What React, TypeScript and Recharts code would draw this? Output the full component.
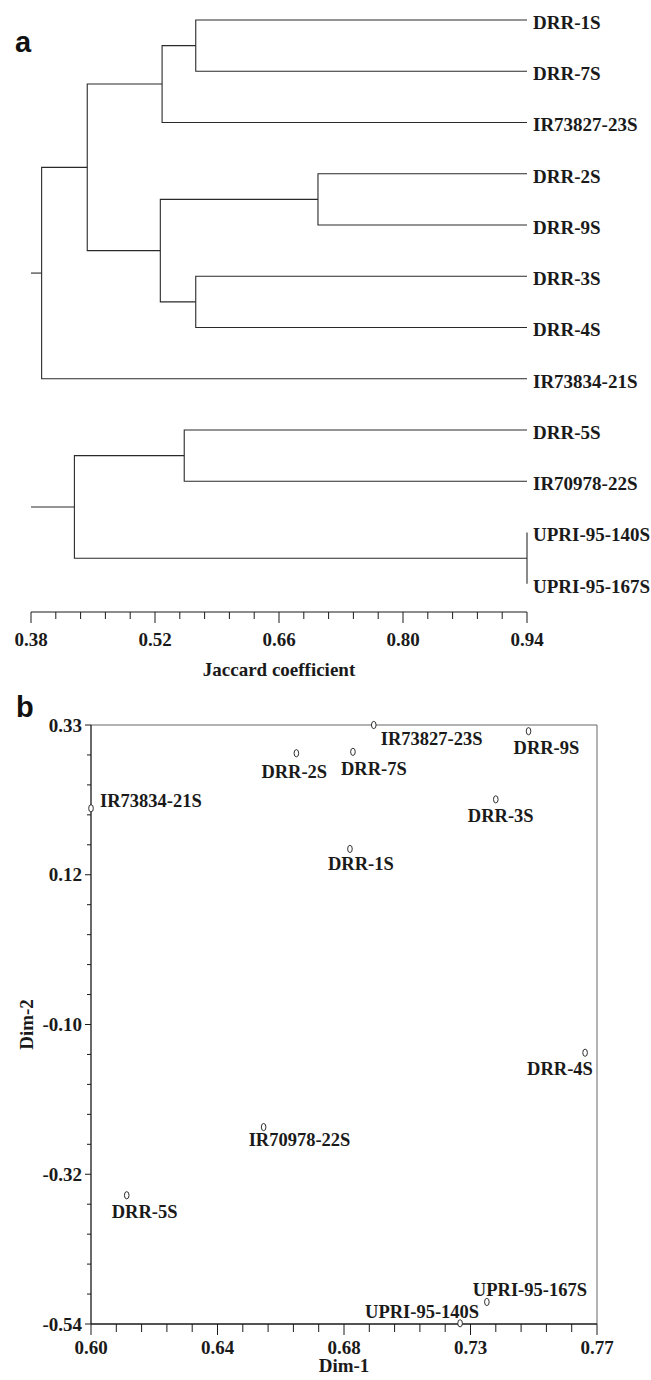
import React from 'react'
import { LineChart, Line, XAxis, YAxis, ScatterChart, Scatter, ReferenceLine, Label } from 'recharts'

// ---- panel a: UPGMA dendrogram (Jaccard) ----
const leafNames = [
  'DRR-1S', 'DRR-7S', 'IR73827-23S', 'DRR-2S', 'DRR-9S', 'DRR-3S',
  'DRR-4S', 'IR73834-21S', 'DRR-5S', 'IR70978-22S', 'UPRI-95-140S', 'UPRI-95-167S',
]
// merges: ids 0..11 are leaves, merge m gets id 12 + m
const mergeLeft = [0, 12, 3, 5, 14, 13, 17, 8, 10, 19]
const mergeRight = [1, 2, 4, 6, 15, 16, 7, 9, 11, 20]
const mergeHeight = [0.566, 0.528, 0.704, 0.566, 0.526, 0.4435, 0.392, 0.553, 0.94, 0.429]

const jaccardDomain: [number, number] = [0.38, 0.94]
const jaccardTickLabels = ['0.38', '0.52', '0.66', '0.80', '0.94']

// ---- panel b: PCoA ----
const pointNames = [
  'IR73834-21S', 'DRR-2S', 'IR73827-23S', 'DRR-7S', 'DRR-9S', 'DRR-3S',
  'DRR-1S', 'DRR-4S', 'IR70978-22S', 'DRR-5S', 'UPRI-95-140S', 'UPRI-95-167S',
]
const dim1Values = [0.600, 0.669, 0.695, 0.688, 0.747, 0.736, 0.687, 0.766, 0.658, 0.612, 0.724, 0.733]
const dim2Values = [0.209, 0.289, 0.330, 0.291, 0.321, 0.222, 0.150, -0.146, -0.254, -0.353, -0.539, -0.508]

const dim1Domain: [number, number] = [0.60, 0.77]
const dim2Domain: [number, number] = [-0.54, 0.33]
const dim1TickLabels = ['0.60', '0.64', '0.68', '0.73', '0.77']
const dim2TickLabels = ['-0.54', '-0.32', '-0.10', '0.12', '0.33']

// where each point's name sits relative to its marker: [dx to text start, dy to baseline]
const labelOffset: Record<string, [number, number]> = {
  'IR73834-21S': [9, -1],
  'DRR-2S': [-35, 25],
  'IR73827-23S': [7, 20],
  'DRR-7S': [-12, 23],
  'DRR-9S': [-15, 23],
  'DRR-3S': [-28, 23],
  'DRR-1S': [-22, 21],
  'DRR-4S': [-58, 22],
  'IR70978-22S': [-15, 19],
  'DRR-5S': [-15, 23],
  'UPRI-95-140S': [-95, -5],
  'UPRI-95-167S': [-14, -6],
}

const SERIF = '"Liberation Serif", "Times New Roman", serif'
const SANS = '"Liberation Sans", Arial, sans-serif'
const INK = '#1a1a1a'
const SUB = 5 // tick intervals between labelled ticks

function axisTicks([min, max]: [number, number], labels: string[]) {
  const step = (max - min) / ((labels.length - 1) * SUB)
  const ticks = Array.from({ length: (labels.length - 1) * SUB + 1 }, (_, i) => min + i * step)
  return { ticks, step, min }
}

const jaccardAxis = axisTicks(jaccardDomain, jaccardTickLabels)
const dim1Axis = axisTicks(dim1Domain, dim1TickLabels)
const dim2Axis = axisTicks(dim2Domain, dim2TickLabels)

function makeXTick(axis: { step: number; min: number }, labels: string[], majorLen: number, minorLen: number, labelDy: number) {
  return (props: any) => {
    const { x, y, payload } = props
    const k = Math.round((payload.value - axis.min) / axis.step)
    const major = k % SUB === 0
    return (
      <g>
        <line x1={x} x2={x} y1={y} y2={y + (major ? majorLen : minorLen)} stroke={INK} strokeWidth={1} />
        {major && (
          <text x={x} y={y + labelDy} textAnchor="middle" fontFamily={SERIF} fontWeight="bold" fontSize={19} fill={INK}>
            {labels[k / SUB]}
          </text>
        )}
      </g>
    )
  }
}

function makeYTick(axis: { step: number; min: number }, labels: string[]) {
  return (props: any) => {
    const { x, y, payload } = props
    const k = Math.round((payload.value - axis.min) / axis.step)
    const major = k % SUB === 0
    return (
      <g>
        <line x1={x - (major ? 6 : 4)} x2={x} y1={y} y2={y} stroke={INK} strokeWidth={1} />
        {major && (
          <text x={x - 9} y={y + 6.5} textAnchor="end" fontFamily={SERIF} fontWeight="bold" fontSize={19} fill={INK}>
            {labels[k / SUB]}
          </text>
        )}
      </g>
    )
  }
}

const JaccardTick = makeXTick(jaccardAxis, jaccardTickLabels, 11, 7, 33.5)
const Dim1Tick = makeXTick(dim1Axis, dim1TickLabels, 11, 8, 29.5)
const Dim2Tick = makeYTick(dim2Axis, dim2TickLabels)

// elbow links of the dendrogram, positions follow leaf order
const dendroLinks = (() => {
  const xs = leafNames.map(() => jaccardDomain[1])
  const ys = leafNames.map((_, i) => i)
  const used = new Set<number>()
  const links: { x: number; y: number }[][] = []
  mergeHeight.forEach((h, m) => {
    const a = mergeLeft[m]
    const b = mergeRight[m]
    used.add(a)
    used.add(b)
    links.push([
      { x: xs[a], y: ys[a] },
      { x: h, y: ys[a] },
      { x: h, y: ys[b] },
      { x: xs[b], y: ys[b] },
    ])
    xs.push(h)
    ys.push((ys[a] + ys[b]) / 2)
  })
  for (let id = leafNames.length; id < xs.length; id++) {
    if (!used.has(id)) links.push([{ x: jaccardDomain[0], y: ys[id] }, { x: xs[id], y: ys[id] }])
  }
  return links
})()

const points = pointNames.map((name, i) => ({ name, x: dim1Values[i], y: dim2Values[i] }))

const Marker = (props: any) => {
  const { cx, cy, payload } = props
  const [dx, dy] = labelOffset[payload.name] || [6, 0]
  return (
    <g>
      <ellipse cx={cx} cy={cy} rx={2.3} ry={3.6} fill="#fff" stroke={INK} strokeWidth={0.9} />
      <text x={cx + dx} y={cy + dy} fontFamily={SERIF} fontWeight="bold" fontSize={18.5} fill={INK}>
        {payload.name}
      </text>
    </g>
  )
}

const axisLabelStyle = { fontFamily: SERIF, fontWeight: 'bold', fontSize: 19, fill: INK }

export default function App() {
  return (
    <div style={{ position: 'absolute', left: 0, top: 0, width: 651, height: 1380, background: '#fff' }}>
      <div style={{ position: 'absolute', left: 0, top: 0 }}>
        <LineChart width={651} height={680} margin={{ top: 20, right: 0, bottom: 0, left: 31 }}>
          <XAxis
            type="number"
            dataKey="x"
            domain={jaccardDomain}
            ticks={jaccardAxis.ticks}
            interval={0}
            height={68}
            tickSize={0}
            tickMargin={0}
            tickLine={false}
            tick={JaccardTick}
            axisLine={{ stroke: INK, strokeWidth: 1 }}
          >
            <Label value="Jaccard coefficient" position="insideBottom" offset={4} style={axisLabelStyle} />
          </XAxis>
          <YAxis
            type="number"
            dataKey="y"
            orientation="right"
            reversed
            domain={[0, 11.55]}
            ticks={leafNames.map((_, i) => i)}
            interval={0}
            width={124}
            tickSize={0}
            tickMargin={6}
            tickLine={false}
            axisLine={false}
            tickFormatter={(v: number) => leafNames[v]}
            tick={{ fontFamily: SERIF, fontWeight: 'bold', fontSize: 19, fill: INK, dy: 2 }}
          />
          {dendroLinks.map((link, i) => (
            <Line
              key={i}
              data={link}
              dataKey="y"
              type="linear"
              stroke="#2a2a2a"
              strokeWidth={1.1}
              dot={false}
              activeDot={false}
              isAnimationActive={false}
            />
          ))}
        </LineChart>
      </div>

      <div style={{ position: 'absolute', left: 0, top: 680 }}>
        <ScatterChart width={651} height={700} margin={{ top: 45, right: 54, bottom: 0, left: 0 }}>
          <XAxis
            type="number"
            dataKey="x"
            domain={dim1Domain}
            ticks={dim1Axis.ticks}
            interval={0}
            height={56}
            tickSize={0}
            tickMargin={0}
            tickLine={false}
            tick={Dim1Tick}
            axisLine={{ stroke: INK, strokeWidth: 1.3 }}
          >
            <Label value="Dim-1" position="insideBottom" offset={8} style={axisLabelStyle} />
          </XAxis>
          <YAxis
            type="number"
            dataKey="y"
            domain={dim2Domain}
            ticks={dim2Axis.ticks}
            interval={0}
            width={91}
            tickSize={0}
            tickMargin={0}
            tickLine={false}
            tick={Dim2Tick}
            axisLine={{ stroke: INK, strokeWidth: 1.3 }}
          >
            <Label value="Dim-2" angle={-90} position="insideLeft" offset={26} style={{ ...axisLabelStyle, textAnchor: 'middle' }} />
          </YAxis>
          <ReferenceLine y={dim2Domain[1]} stroke="#666" strokeWidth={1} />
          <ReferenceLine x={dim1Domain[1]} stroke="#666" strokeWidth={1} />
          <Scatter data={points} shape={Marker} isAnimationActive={false} />
        </ScatterChart>
      </div>

      <svg width={651} height={1380} style={{ position: 'absolute', left: 0, top: 0, pointerEvents: 'none' }}>
        <text x={15} y={52} fontFamily={SANS} fontWeight="bold" fontSize={29} fill="#111">a</text>
        <text x={16} y={717} fontFamily={SANS} fontWeight="bold" fontSize={29} fill="#111">b</text>
      </svg>
    </div>
  )
}
